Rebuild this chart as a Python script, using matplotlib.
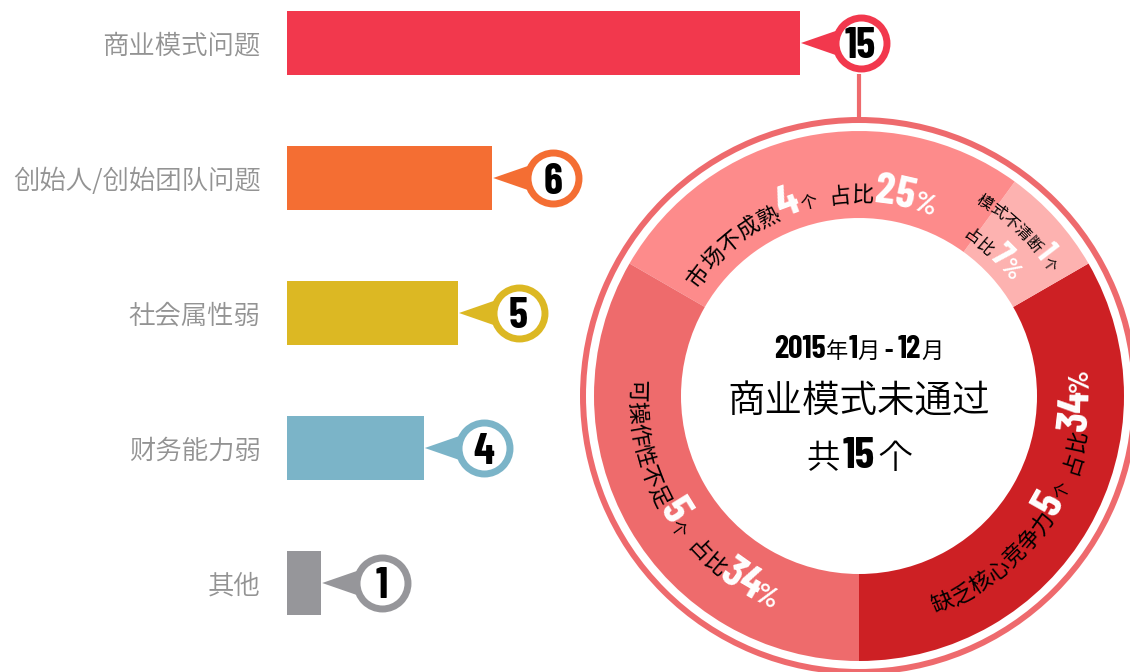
import numpy as np
import matplotlib
matplotlib.use("Agg")
import matplotlib.pyplot as plt
from matplotlib import font_manager as fm
from matplotlib.patches import Polygon, Wedge

# ---- data ----
categories = ["商业模式问题", "创始人/创始团队问题", "社会属性弱", "财务能力弱", "其他"]
counts = [15, 6, 5, 4, 1]
bar_colors = ["#f2384d", "#f46e33", "#dcb823", "#7bb4c8", "#96969a"]

reasons = ["缺乏核心竞争力", "模式不清断", "市场不成熟", "可操作性不足"]
reason_counts = [5, 1, 4, 5]
reason_pct = [34, 7, 25, 34]
ring_colors = ["#cd2024", "#fdb2b0", "#fd8b8b", "#ee6b6c"]
ring_line = "#ee6a6d"

period = ("2015", "年", "1", "月", " - ", "12", "月")
title = "商业模式未通过"
total = 15

# ---- fonts ----
CJK = "Noto Sans CJK SC"


def wnum(f):
    return f.weight if isinstance(f.weight, int) else fm.weight_dict.get(str(f.weight), 400)


# narrow bold face for the numbers
cands = [f for f in fm.fontManager.ttflist
         if f.name in ("Barlow Condensed", "Roboto Condensed") and wnum(f) >= 600]
cands.sort(key=lambda f: (f.name != "Barlow Condensed", abs(wnum(f) - 700)))
NUM_FILE = cands[0].fname if cands else None
light = [f for f in fm.fontManager.ttflist if "CJK" in f.name and wnum(f) < 400]
LIGHT_FILE = sorted(light, key=lambda f: -wnum(f))[0].fname if light else None


def numfp(size):
    if NUM_FILE:
        return fm.FontProperties(fname=NUM_FILE, size=size)
    return fm.FontProperties(family="DejaVu Sans", weight="bold", size=size)


def cjkfp(size, weight="normal"):
    if weight == "light" and LIGHT_FILE:
        return fm.FontProperties(fname=LIGHT_FILE, size=size)
    return fm.FontProperties(family=CJK, size=size, weight=weight)


W, H = 1130, 672
fig = plt.figure(figsize=(W / 100, H / 100), dpi=100)
fig.patch.set_facecolor("white")
rend = fig.canvas.get_renderer()


def text_w(s, fp):
    if s.strip() == "":
        return fp.get_size_in_points() * 100 / 72 * 0.3 * len(s)
    w, _, _ = rend.get_text_width_height_descent(s, fp, ismath=False)
    return w


# ---- bar chart ----
px_unit = 34.2
ax = fig.add_axes([287 / W, 0, (W - 287) / W, 1])
ax.set_xlim(0, (W - 287) / px_unit)
ax.set_ylim((H - 43) / 135, -43 / 135)
y = np.arange(len(categories))
ax.barh(y, counts, height=64 / 135, color=bar_colors, zorder=2)
ax.set_yticks(y, categories)
ax.tick_params(axis="y", length=0, pad=19)
for lab in ax.get_yticklabels():
    lab.set_fontproperties(cjkfp(19, "light"))
    lab.set_color("#939393")
ax.set_xticks([])
for s in ax.spines.values():
    s.set_visible(False)
ax.patch.set_visible(False)

# callout bubbles
for yi, v, c in zip(y, counts, bar_colors):
    cx = v + 60.5 / px_unit
    tri = Polygon([[v + 1 / px_unit, yi],
                   [cx - 22 / px_unit, yi - 13 / 135],
                   [cx - 22 / px_unit, yi + 13 / 135]],
                  closed=True, facecolor=c, lw=0, zorder=3)
    ax.add_patch(tri)
    ax.scatter([cx], [yi], s=36.7 ** 2, facecolor="white", edgecolor=c,
               linewidth=5, zorder=4, clip_on=False)
    ax.text(cx, yi, str(v), fontproperties=numfp(31), color="black",
            ha="center", va="center_baseline", zorder=5)

# ---- donut ----
R = 280
cxp, cyp = 859, 396
pax = fig.add_axes([(cxp - R) / W, (H - cyp - R) / H, 2 * R / W, 2 * R / H])
pax.pie(reason_counts, colors=ring_colors, radius=265, startangle=-90,
        counterclock=True, wedgeprops=dict(width=87, linewidth=0))
pax.set_xlim(-R, R)
pax.set_ylim(-R, R)
pax.axis("off")
pax.add_patch(Wedge((0, 0), 279, 0, 360, width=6, facecolor=ring_line, lw=0))
pax.plot([0, 0], [277, cyp - 74], color=ring_line, lw=3, clip_on=False,
         solid_capstyle="butt", zorder=1)


def arc_text(segs, r, mid, d):
    # d=-1 clockwise (tops outward), d=1 counter-clockwise (tops inward)
    items = [(ch, fp, col, text_w(ch, fp)) for txt, fp, col in segs for ch in txt]
    tot = sum(i[3] for i in items)
    a = np.radians(mid) - d * tot / 2 / r
    for ch, fp, col, w in items:
        t = a + d * w / 2 / r
        if ch.strip():
            pax.text(r * np.cos(t), r * np.sin(t), ch, fontproperties=fp, color=col,
                     rotation=np.degrees(t) + 90 * d, rotation_mode="anchor",
                     ha="center", va="baseline")
        a += d * w / r


def line_text(segs, x, yb):
    widths = [text_w(txt, fp) for txt, fp, col in segs]
    xs = x - sum(widths) / 2
    for (txt, fp, col), w in zip(segs, widths):
        if txt.strip():
            pax.text(xs, yb, txt, fontproperties=fp, color=col, ha="left", va="baseline")
        xs += w


K, Wt = "black", "white"


def big_label(i, r, mid, d):
    return arc_text([(reasons[i], cjkfp(16), K), (str(reason_counts[i]), numfp(32), Wt),
                     ("个", cjkfp(12), K), ("  ", cjkfp(14), K), ("占比", cjkfp(16), K),
                     (str(reason_pct[i]), numfp(32), Wt), ("%", numfp(21), Wt)], r, mid, d)


big_label(0, 230, -32, 1)     # 缺乏核心竞争力
big_label(3, 230, 212, 1)     # 可操作性不足
big_label(2, 194, 107, -1)    # 市场不成熟
# 模式不清断
arc_text([(reasons[1], cjkfp(11.5), K), (str(reason_counts[1]), numfp(24), Wt),
          ("个", cjkfp(10), K)], 226, 46, -1)
arc_text([("占比", cjkfp(12), K), (str(reason_pct[1]), numfp(26), Wt),
          ("%", numfp(18), Wt)], 190, 47, -1)

# centre text
line_text([(period[0], numfp(23), K), (period[1], cjkfp(16), K),
           (period[2], numfp(23), K), (period[3], cjkfp(16), K),
           (period[4], numfp(18), K), (period[5], numfp(23), K),
           (period[6], cjkfp(16), K)], 0, 38)
line_text([(title, cjkfp(27, "light"), K)], 0, -17)
line_text([("共", cjkfp(24, "light"), K), (" ", cjkfp(8), K),
           (str(total), numfp(32), K), (" ", cjkfp(8), K),
           ("个", cjkfp(24, "light"), K)], 0, -72)

fig.savefig("out.png", dpi=100)
